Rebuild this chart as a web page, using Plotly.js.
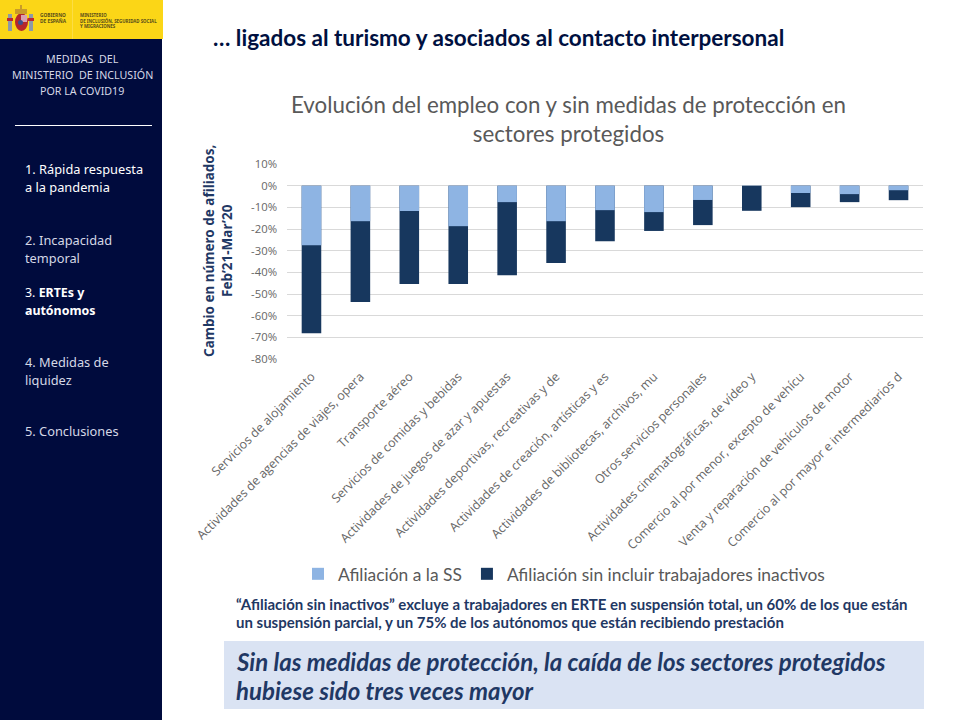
<!DOCTYPE html>
<html>
<head>
<meta charset="utf-8">
<script src="https://cdn.plot.ly/plotly-3.0.1.min.js"></script>
<style>html,body{margin:0;padding:0;background:#fff}</style>
</head>
<body>
<div id="chart" style="width:960px;height:720px"></div>
<script>
var categories = [
  "Servicios de alojamiento",
  "Actividades de agencias de viajes, opera",
  "Transporte aéreo",
  "Servicios de comidas y bebidas",
  "Actividades de juegos de azar y apuestas",
  "Actividades deportivas, recreativas y de",
  "Actividades de creación, artísticas y es",
  "Actividades de bibliotecas, archivos, mu",
  "Otros servicios personales",
  "Actividades cinematográficas, de vídeo y",
  "Comercio al por menor, excepto de vehícu",
  "Venta y reparación de vehículos de motor",
  "Comercio al por mayor e intermediarios d"
];
var afiliacionSS = [-27.5, -16.4, -11.7, -18.7, -7.6, -16.4, -11.3, -12.2, -6.6, -0.1, -3.4, -3.9, -2.1];
var afiliacionSinInactivos = [-68.1, -53.7, -45.4, -45.4, -41.3, -35.7, -25.6, -20.9, -18.2, -11.6, -9.9, -7.6, -6.7];
var tickValues = [10, 0, -10, -20, -30, -40, -50, -60, -70, -80];
var tickLabels = ["10%", "0%", "-10%", "-20%", "-30%", "-40%", "-50%", "-60%", "-70%", "-80%"];

var L = 287, R = 923, T = 164, B = 359;
function px(x) { return (x - L) / (R - L); }
function py(y) { return (B - y) / (B - T); }
function note(x, y, text, size, color, family, anchor, extra) {
  var a = { x: px(x), y: py(y), xref: "paper", yref: "paper", text: text, showarrow: false,
    xanchor: anchor || "left", yanchor: "middle", align: anchor === "center" ? "center" : "left",
    font: { size: size, color: color, family: family }, borderpad: 0 };
  for (var k in extra || {}) a[k] = extra[k];
  return a;
}
function box(x0, y0, x1, y1, fill, type) {
  return { type: type || "rect", xref: "paper", yref: "paper", x0: px(x0), x1: px(x1), y0: py(y0), y1: py(y1),
    fillcolor: fill, line: { width: 0 }, layer: "below" };
}
var side = "'Noto Sans', sans-serif", lato = "Lato, sans-serif";

var shapes = [
  box(0, 0, 162, 720, "#000B3D"),
  box(0, 0, 163, 39, "#FBD617"),
  box(72, 0, 72.7, 39, "#FCE05A"),
  { type: "line", xref: "paper", yref: "paper", x0: px(15), x1: px(152), y0: py(125.5), y1: py(125.5), line: { color: "#FFFFFF", width: 1 }, layer: "below" },
  box(224, 641, 924, 709, "#DAE3F3"),
  // escudo
  box(8, 14, 12, 31, "#8E9AA6"), box(29, 14, 33, 31, "#8E9AA6"),
  box(7, 18, 13, 21, "#C0272D"), box(28, 18, 34, 21, "#C0272D"),
  box(15, 13, 28, 31, "#B5272D", "circle"),
  box(15, 9, 27, 14, "#C89B2A"),
  box(20, 5, 22, 9, "#C89B2A"),
  box(21, 15, 27, 22, "#D9A0B0"),
  box(18, 20, 23, 25, "#3B4E8C", "circle")
];

var annotations = [
  note(39, 18, "<b>GOBIERNO<br>DE ESPAÑA</b>", 4.8, "#5A4E1A", side),
  note(79, 20.5, "<b>MINISTERIO<br>DE INCLUSIÓN, SEGURIDAD SOCIAL<br>Y MIGRACIONES</b>", 4.4, "#5A4E1A", side),
  note(82, 59, "MEDIDAS  DEL", 10.7, "#D5D8E6", side, "center"),
  note(82, 75, "MINISTERIO  DE INCLUSIÓN", 10.7, "#D5D8E6", side, "center"),
  note(82, 91, "POR LA COVID19", 10.7, "#D5D8E6", side, "center"),
  note(24, 169, "1. Rápida respuesta", 12.8, "#FFFFFF", side),
  note(24, 186.5, "a la pandemia", 12.8, "#FFFFFF", side),
  note(24, 239.5, "2. Incapacidad", 12.8, "#D5D8E6", side),
  note(24, 257.5, "temporal", 12.8, "#D5D8E6", side),
  note(24, 292, "3. <b>ERTEs y</b>", 12.4, "#FFFFFF", side),
  note(24, 310, "<b>autónomos</b>", 12.4, "#FFFFFF", side),
  note(24, 362, "4. Medidas de", 12.8, "#D5D8E6", side),
  note(24, 380, "liquidez", 12.8, "#D5D8E6", side),
  note(24, 430.5, "5. Conclusiones", 12.8, "#D5D8E6", side),
  note(212, 37, "<b>… ligados al turismo y asociados al contacto interpersonal</b>", 22.5, "#001040", lato),
  note(218, 251, "<b>Cambio en número de afiliados,<br>Feb’21-Mar’20</b>", 13.5, "#1F3864", side, "center", { textangle: -90 }),
  note(234.5, 604, "<b>“Afiliación sin inactivos” excluye a trabajadores en ERTE en suspensión total, un 60% de los que están</b>", 15, "#1F3864", lato),
  note(234.5, 622, "<b>un suspensión parcial, y un 75% de los autónomos que están recibiendo prestación</b>", 15, "#1F3864", lato),
  note(234.5, 661, "<b><i>Sin las medidas de protección, la caída de los sectores protegidos</i></b>", 24, "#1F3864", lato),
  note(234.5, 690, "<b><i>hubiese sido tres veces mayor</i></b>", 24, "#1F3864", lato)
];

var traces = [
  { type: "bar", name: "Afiliación sin incluir trabajadores inactivos", x: categories, y: afiliacionSinInactivos, marker: { color: "#17375E" }, width: 0.4 },
  { type: "bar", name: "Afiliación a la SS", x: categories, y: afiliacionSS, marker: { color: "#8EB4E3" }, width: 0.4 }
];

var layout = {
  width: 960, height: 720, autosize: false,
  paper_bgcolor: "#FFFFFF", plot_bgcolor: "rgba(0,0,0,0)",
  margin: { l: L, r: 960 - R, t: T, b: 720 - B, pad: 0 },
  barmode: "overlay", showlegend: true,
  title: { text: "Evolución del empleo con y sin medidas de protección en<br>sectores protegidos",
    x: px(568.5), xref: "paper", xanchor: "center", y: 1 - 113 / 720, yref: "container", yanchor: "middle",
    font: { family: lato, size: 22.3, color: "#595959" } },
  legend: { orientation: "h", traceorder: "reversed", x: px(298), xanchor: "left", y: py(574), yanchor: "middle",
    font: { family: lato, size: 17.4, color: "#595959" }, bgcolor: "rgba(0,0,0,0)", itemwidth: 30 },
  xaxis: { type: "category", range: [-0.5, 12.5], tickangle: -45, showgrid: false, zeroline: false, showline: false, ticks: "",
    automargin: false, ticklabelstandoff: 7, tickfont: { family: "'Open Sans', sans-serif", size: 12.4, color: "#666666" } },
  yaxis: { range: [-80, 10], tickmode: "array", tickvals: tickValues, ticktext: tickLabels, showgrid: true, gridcolor: "#D9D9D9", gridwidth: 1,
    zeroline: true, zerolinecolor: "#D9D9D9", zerolinewidth: 1, showline: false, ticks: "", automargin: false, ticklabelstandoff: 9,
    tickfont: { family: "'Open Sans', sans-serif", size: 11.3, color: "#666666" } },
  shapes: shapes,
  annotations: annotations
};
Plotly.newPlot("chart", traces, layout, { displayModeBar: false, staticPlot: true });
</script>
</body>
</html>
